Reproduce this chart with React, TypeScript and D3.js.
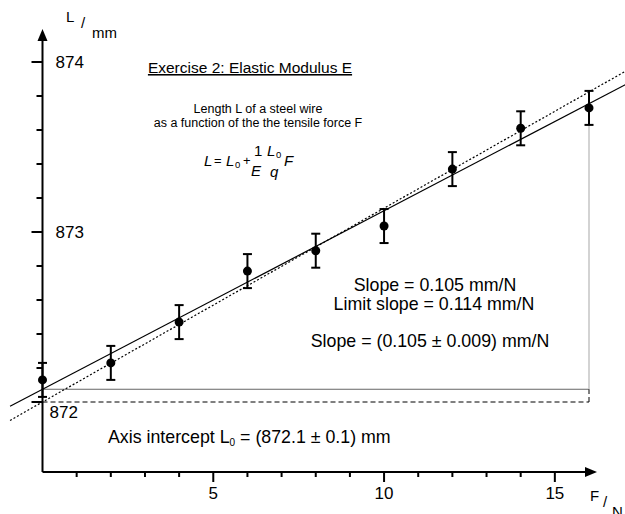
import React from "react";
import * as d3 from "d3";

const forces = [0, 2, 4, 6, 8, 10, 12, 14, 16];
const lengths = [872.13, 872.23, 872.47, 872.77, 872.89, 873.035, 873.37, 873.61, 873.73];
const errors = [0.1, 0.1, 0.1, 0.1, 0.1, 0.1, 0.1, 0.1, 0.1];
const yMajorTicks = [872, 873, 874];
const yMinorTicks = [872.2, 872.4, 872.6, 872.8, 873.2, 873.4, 873.6, 873.8];
const xMajorTicks = [5, 10, 15];
const xMinorTicks = [1, 2, 3, 4, 6, 7, 8, 9, 11, 12, 13, 14];
const fitSlope = 0.105;
const fitIntercept = 872.075;
const limitSlope = 0.114;
const limitIntercept = 872.0;

const W = 625;
const H = 514;
const FONT = "'Liberation Sans', Arial, sans-serif";

export default function App() {
  const x = d3.scaleLinear().domain([0, 16]).range([42.5, 589]);
  const y = d3.scaleLinear().domain([872, 874]).range([402, 62]);
  const x0 = x(0);
  const axisY = 472;
  const axisTop = 29;
  const axisRight = 597;

  const fitLine = d3
    .line<number>()
    .x((f) => x(f))
    .y((f) => y(fitIntercept + fitSlope * f));
  const limitLine = d3
    .line<number>()
    .x((f) => x(f))
    .y((f) => y(limitIntercept + limitSlope * f));
  const lineF = [-0.95, 17.5];

  return (
    <svg width={W} height={H} style={{ position: "absolute", left: 0, top: 0, background: "#fff" }} fontFamily={FONT}>
      <rect x={0} y={0} width={W} height={H} fill="#fff" />
      <defs>
        <clipPath id="clip">
          <rect x={0} y={0} width={W} height={H} />
        </clipPath>
      </defs>

      {/* slope triangle helper lines */}
      <line x1={x0} x2={x(16)} y1={y(fitIntercept)} y2={y(fitIntercept)} stroke="#666" strokeWidth={1} />
      <line x1={x(16)} x2={x(16)} y1={y(fitIntercept)} y2={y(fitIntercept + fitSlope * 16)} stroke="#c4c4c4" strokeWidth={1.5} />
      <line x1={x0} x2={x(16)} y1={y(limitIntercept)} y2={y(limitIntercept)} stroke="#000" strokeWidth={1} strokeDasharray="5,3" />
      <line x1={x(16)} x2={x(16)} y1={y(limitIntercept)} y2={y(fitIntercept)} stroke="#000" strokeWidth={1} strokeDasharray="5,3" />

      {/* fit lines */}
      <g clipPath="url(#clip)">
        <path d={fitLine(lineF) || ""} fill="none" stroke="#000" strokeWidth={1.2} />
        <path d={limitLine(lineF) || ""} fill="none" stroke="#000" strokeWidth={1.2} strokeDasharray="2,2" />
      </g>

      {/* axes */}
      <line x1={x0} x2={x0} y1={axisY} y2={axisTop + 10} stroke="#000" strokeWidth={2} />
      <path d={`M${x0},${axisTop} L${x0 - 5},${axisTop + 12} L${x0 + 5},${axisTop + 12} Z`} fill="#000" />
      <line x1={x0} x2={axisRight - 10} y1={axisY} y2={axisY} stroke="#000" strokeWidth={2} />
      <path d={`M${axisRight},${axisY} L${axisRight - 12},${axisY - 5} L${axisRight - 12},${axisY + 5} Z`} fill="#000" />

      {yMajorTicks.map((t) => (
        <line key={"ym" + t} x1={x0 - 11} x2={x0} y1={y(t)} y2={y(t)} stroke="#000" strokeWidth={2} />
      ))}
      {yMinorTicks.map((t) => (
        <line key={"yn" + t} x1={x0 - 6} x2={x0} y1={y(t)} y2={y(t)} stroke="#000" strokeWidth={2} />
      ))}
      {yMajorTicks.map((t) => (
        <text
          key={"yl" + t}
          x={t === 872 ? x0 + 7 : x0 + 13}
          y={y(t) + (t === 872 ? 16 : 6)}
          fontSize={17}
        >
          {t}
        </text>
      ))}
      {xMajorTicks.map((t) => (
        <line key={"xm" + t} x1={x(t)} x2={x(t)} y1={axisY} y2={axisY + 10} stroke="#000" strokeWidth={2} />
      ))}
      {xMinorTicks.map((t) => (
        <line key={"xn" + t} x1={x(t)} x2={x(t)} y1={axisY} y2={axisY + 5} stroke="#000" strokeWidth={2} />
      ))}
      {xMajorTicks.map((t) => (
        <text key={"xl" + t} x={x(t)} y={axisY + 27} fontSize={17} textAnchor="middle">
          {t}
        </text>
      ))}

      {/* axis labels */}
      <text x={66} y={22} fontSize={15}>L</text>
      <text x={81} y={28} fontSize={15}>/</text>
      <text x={92} y={38} fontSize={15}>mm</text>
      <text x={590} y={501} fontSize={15}>F</text>
      <text x={603} y={507} fontSize={15}>/</text>
      <text x={612} y={517} fontSize={15}>N</text>

      {/* data */}
      {forces.map((f, i) => {
        const cx = x(f);
        const top = y(lengths[i] + errors[i]);
        const bot = y(lengths[i] - errors[i]);
        return (
          <g key={"p" + i}>
            <line x1={cx} x2={cx} y1={top} y2={bot} stroke="#000" strokeWidth={2} />
            <line x1={cx - 4.5} x2={cx + 4.5} y1={top} y2={top} stroke="#000" strokeWidth={2} />
            <line x1={cx - 4.5} x2={cx + 4.5} y1={bot} y2={bot} stroke="#000" strokeWidth={2} />
            <circle cx={cx} cy={y(lengths[i])} r={4.5} fill="#000" />
          </g>
        );
      })}

      {/* title */}
      <text x={250} y={73} fontSize={15.5} textAnchor="middle" textDecoration="underline">
        Exercise 2: Elastic Modulus E
      </text>
      <text x={258} y={113} fontSize={12.5} textAnchor="middle">Length L of a steel wire</text>
      <text x={258} y={127} fontSize={12.5} textAnchor="middle">as a function of the the tensile force F</text>

      {/* formula */}
      <g fontSize={15}>
        <text x={204} y={166} fontStyle="italic">L</text>
        <text x={214} y={165} fontSize={13}>=</text>
        <text x={226} y={166} fontStyle="italic">L</text>
        <text x={235} y={168} fontSize={9.5}>0</text>
        <text x={243} y={165} fontSize={13}>+</text>
        <text x={254} y={156}>1</text>
        <text x={251} y={176} fontStyle="italic">E</text>
        <text x={267} y={156} fontStyle="italic">L</text>
        <text x={276} y={158} fontSize={9.5}>0</text>
        <text x={270} y={177} fontStyle="italic">q</text>
        <text x={284} y={166} fontStyle="italic">F</text>
      </g>

      {/* annotations */}
      <text x={435} y={291} fontSize={17.8} textAnchor="middle">Slope = 0.105 mm/N</text>
      <text x={434} y={310} fontSize={17.8} textAnchor="middle">Limit slope = 0.114 mm/N</text>
      <text x={430} y={347} fontSize={17.8} textAnchor="middle">Slope = (0.105 ± 0.009) mm/N</text>
      <text x={108} y={443} fontSize={17.8}>
        Axis intercept L<tspan fontSize={10} dy={3}>0</tspan>
        <tspan dy={-3}> = (872.1 ± 0.1) mm</tspan>
      </text>
    </svg>
  );
}
